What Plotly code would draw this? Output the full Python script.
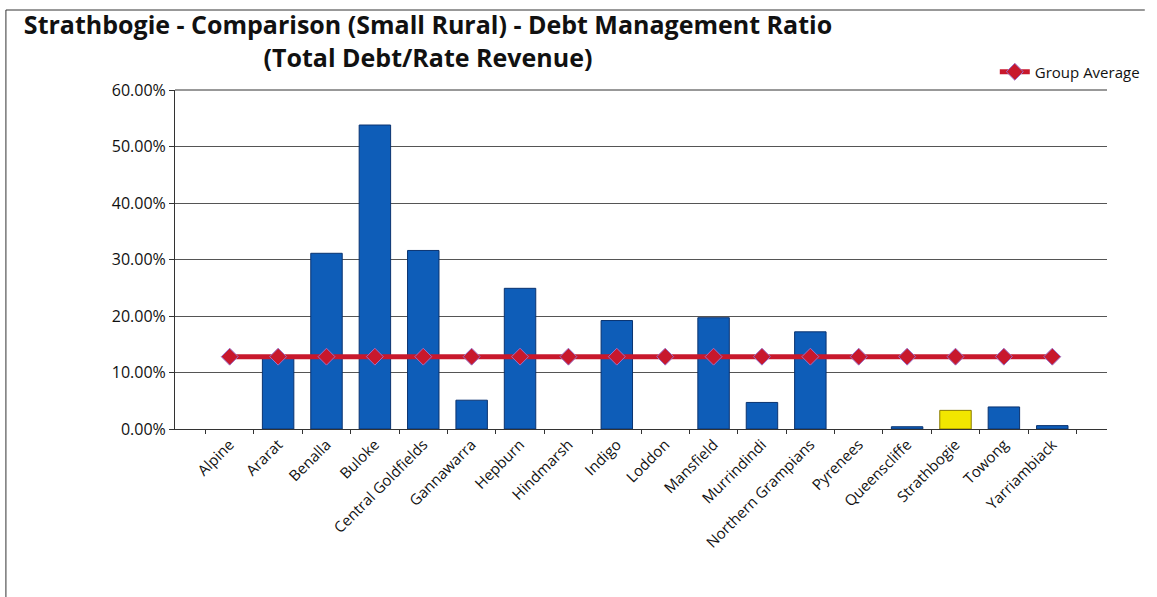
import plotly.graph_objects as go

councils = ["Alpine", "Ararat", "Benalla", "Buloke", "Central Goldfields", "Gannawarra",
            "Hepburn", "Hindmarsh", "Indigo", "Loddon", "Mansfield", "Murrindindi",
            "Northern Grampians", "Pyrenees", "Queenscliffe", "Strathbogie", "Towong",
            "Yarriambiack"]
debt_ratio = [0.0, 0.125, 0.311, 0.538, 0.316, 0.051, 0.249, 0.0, 0.192, 0.0, 0.197,
              0.047, 0.172, 0.0, 0.004, 0.033, 0.039, 0.006]
group_average = [0.128] * len(councils)
highlight = "Strathbogie"

W, H = 1157, 597
L, R, T, B = 175, 45, 90, 168
PW, PH = W - L - R, H - T - B


def px_x(p):
    return (p - L) / PW


def px_y(p):
    return (H - B - p) / PH


bar_colors = ["#F2E600" if c == highlight else "#0E5DB8" for c in councils]
bar_lines = ["#8A7A00" if c == highlight else "#0A3370" for c in councils]
bar_line_w = [1 if v > 0 else 0 for v in debt_ratio]

fig = go.Figure()
fig.add_trace(go.Bar(
    x=councils, y=debt_ratio, width=0.65,
    marker=dict(color=bar_colors, line=dict(color=bar_lines, width=bar_line_w)),
    showlegend=False,
))
fig.add_trace(go.Scatter(
    x=councils, y=group_average, mode="lines+markers", name="Group Average",
    line=dict(color="#C8182C", width=5),
    marker=dict(symbol="diamond", size=13, color="#C8182C",
                line=dict(color="#9A6FC8", width=1)),
))

fig.update_layout(
    width=W, height=H,
    paper_bgcolor="white", plot_bgcolor="white",
    margin=dict(l=L, r=R, t=T, b=B),
    font=dict(family="Open Sans, Lato, sans-serif", color="#222"),
    title=dict(
        text="Strathbogie - Comparison (Small Rural) - Debt Management Ratio<br>"
             "(Total Debt/Rate Revenue)",
        xref="container", yref="container",
        x=428 / W, xanchor="center", y=1 - 34 / H, yanchor="top",
        font=dict(family="Open Sans, Lato, sans-serif", size=25, color="#111",
                  weight="bold"),
    ),
    legend=dict(x=px_x(1150), xanchor="right", y=px_y(72), yanchor="middle",
                font=dict(family="Open Sans, sans-serif", size=15, color="#111"),
                bgcolor="rgba(0,0,0,0)"),
    bargap=0.35,
)
fig.update_yaxes(
    range=[0, 0.6], dtick=0.1, tickformat=".2%",
    showgrid=True, gridcolor="#555", gridwidth=1,
    showline=True, linecolor="#333", linewidth=1,
    ticks="outside", ticklen=5, tickcolor="#333",
    tickfont=dict(family="Open Sans, sans-serif", size=16, color="#111"),
    zeroline=False,
)
fig.update_xaxes(
    tickangle=-45, tickfont=dict(family="Open Sans, sans-serif", size=15, color="#111"),
    showline=True, linecolor="#333", linewidth=1,
    ticks="outside", ticklen=4, tickcolor="#333", tickson="boundaries",
)
# top border of plot area
fig.add_shape(type="line", xref="paper", yref="paper", x0=0, x1=1, y0=1, y1=1,
              line=dict(color="#333", width=1))
# outer chart frame (top and left edges)
fig.add_shape(type="line", xref="paper", yref="paper",
              x0=px_x(5), x1=px_x(1150), y0=px_y(10), y1=px_y(10),
              line=dict(color="#333", width=1))
fig.add_shape(type="line", xref="paper", yref="paper",
              x0=px_x(5), x1=px_x(5), y0=px_y(10), y1=px_y(597),
              line=dict(color="#333", width=1))

fig.write_html("out.html", config={"displayModeBar": False},
               post_script="document.body.style.margin='0';")
